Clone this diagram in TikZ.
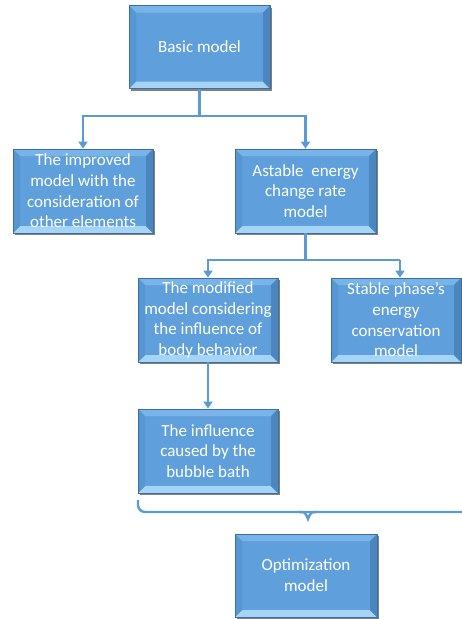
\documentclass[tikz,border=0pt]{standalone}
\usepackage{fontspec}
\setmainfont{Carlito}
\usetikzlibrary{arrows.meta,shadows}
\definecolor{boxblue}{HTML}{5FA0DC}
\definecolor{bevtop}{HTML}{78B4E8}
\definecolor{bevbot}{HTML}{A6D4F7}
\definecolor{bevleft}{HTML}{5696D2}
\definecolor{bevright}{HTML}{4C86BE}
\definecolor{boxedge}{HTML}{3C6E9E}
\definecolor{linkblue}{HTML}{5B9BD5}
\tikzset{
  bevbox/.style={rectangle, minimum width=141pt, minimum height=83pt, inner sep=0pt,
    fill=boxblue, draw=boxedge, line width=0.8pt, text=white, align=center,
    font=\fontsize{17}{20.7}\selectfont,
    drop shadow={shadow xshift=2pt, shadow yshift=-2pt, opacity=0.7, fill=black!70},
    path picture={
      \def\bw{7pt}
      \fill[bevtop] (path picture bounding box.north west) -- (path picture bounding box.north east)
        -- ([xshift=-\bw,yshift=-\bw]path picture bounding box.north east)
        -- ([xshift=\bw,yshift=-\bw]path picture bounding box.north west) -- cycle;
      \fill[bevbot] (path picture bounding box.south west) -- (path picture bounding box.south east)
        -- ([xshift=-\bw,yshift=\bw]path picture bounding box.south east)
        -- ([xshift=\bw,yshift=\bw]path picture bounding box.south west) -- cycle;
      \fill[bevleft] (path picture bounding box.south west) -- (path picture bounding box.north west)
        -- ([xshift=\bw,yshift=-\bw]path picture bounding box.north west)
        -- ([xshift=\bw,yshift=\bw]path picture bounding box.south west) -- cycle;
      \fill[bevright] (path picture bounding box.south east) -- (path picture bounding box.north east)
        -- ([xshift=-\bw,yshift=-\bw]path picture bounding box.north east)
        -- ([xshift=-\bw,yshift=\bw]path picture bounding box.south east) -- cycle;
    }},
  conn/.style={draw=linkblue, line width=2.4pt},
  arr/.style={conn, -{Triangle[width=9pt,length=7pt]}}
}
\begin{document}
\begin{tikzpicture}[x=1pt,y=-1pt]
\useasboundingbox (0,0) rectangle (462,619);
\node[bevbox] (basic) at (199.5,47) {Basic model};
\node[bevbox, minimum width=140pt, minimum height=84pt] (improved) at (83,191)
  {The improved\\model with the\\consideration of\\other elements};
\node[bevbox, minimum height=84pt] (astable) at (305.5,191)
  {Astable~ energy\\change rate\\model};
\node[bevbox, minimum width=140pt, minimum height=84pt] (modified) at (208,320)
  {The modified\\model considering\\the influence of\\body behavior};
\node[bevbox, minimum width=130pt, minimum height=84pt] (stable) at (396,320)
  {Stable phase’s\\energy\\conservation\\model};
\node[bevbox, minimum width=140pt, minimum height=84pt] (bubble) at (208,451)
  {The influence\\caused by the\\bubble bath};
\node[bevbox, minimum width=142pt] (optim) at (306,575.5)
  {Optimization\\model};

\draw[conn] (basic.south) -- (199.5,116) coordinate (j1);
\draw[arr] (j1) -| (improved.north);
\draw[arr] (j1) -| (astable.north);
\draw[conn] (astable.south) -- (305.5,260) coordinate (j2);
\draw[arr] (j2) -| (modified.north);
\draw[conn] (j2) -- (400,260) coordinate (j3);
\draw[arr] (j3) -- (j3 |- stable.north);
\draw[arr] (modified.south) -- (bubble.north);

\coordinate (bl) at (138,500);
\coordinate (bt) at (308,519);
\draw[conn, rounded corners=7pt] (bl) -- (138,512) -- (470,512);
\draw[conn, line cap=round] (299,512) .. controls (305,512) .. (bt) .. controls (311,512) .. (317,512);
\end{tikzpicture}
\end{document}
